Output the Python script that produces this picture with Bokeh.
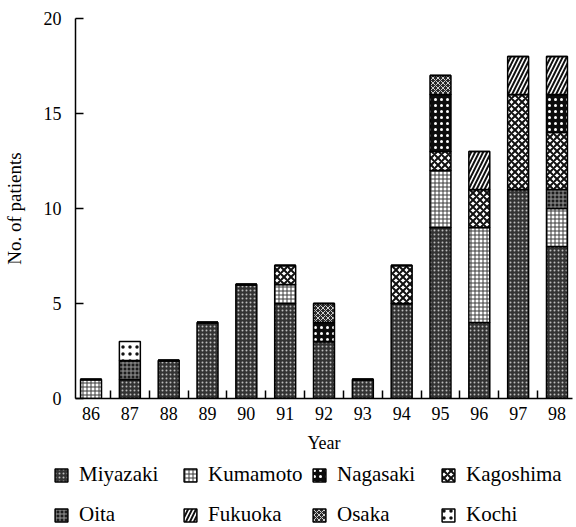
from bokeh.plotting import figure
from bokeh.layouts import column
from bokeh.models import ColumnDataSource, FixedTicker, Legend, LegendItem
from bokeh.embed import file_html
from bokeh.resources import INLINE

# Patients per year, broken down by prefecture
years = [86, 87, 88, 89, 90, 91, 92, 93, 94, 95, 96, 97, 98]
year_labels = ["86", "87", "88", "89", "90", "91", "92", "93", "94", "95", "96", "97", "98"]

miyazaki = [0, 1, 2, 4, 6, 5, 3, 1, 5, 9, 4, 11, 8]
kumamoto = [1, 0, 0, 0, 0, 1, 0, 0, 0, 3, 5, 0, 2]
oita = [0, 1, 0, 0, 0, 0, 0, 0, 0, 0, 0, 0, 1]
kagoshima = [0, 0, 0, 0, 0, 1, 0, 0, 2, 1, 2, 5, 3]
nagasaki = [0, 0, 0, 0, 0, 0, 1, 0, 0, 3, 0, 0, 2]
osaka = [0, 0, 0, 0, 0, 0, 1, 0, 0, 1, 0, 0, 0]
fukuoka = [0, 0, 0, 0, 0, 0, 0, 0, 0, 0, 2, 2, 2]
kochi = [0, 1, 0, 0, 0, 0, 0, 0, 0, 0, 0, 0, 0]

# stacking order (bottom to top)
stack_names = ["Miyazaki", "Kumamoto", "Oita", "Kagoshima", "Nagasaki", "Osaka", "Fukuoka", "Kochi"]
stack_values = [miyazaki, kumamoto, oita, kagoshima, nagasaki, osaka, fukuoka, kochi]
# legend order (row by row)
legend_order = ["Miyazaki", "Kumamoto", "Nagasaki", "Kagoshima", "Oita", "Fukuoka", "Osaka", "Kochi"]

# fill / hatch style per prefecture
styles = {
    "Miyazaki":  dict(fill="#333333", hatch="dot", hcolor="#bdbdbd", scale=4, weight=1),
    "Kumamoto":  dict(fill="#ffffff", hatch="cross", hcolor="#3a3a3a", scale=4, weight=1),
    "Oita":      dict(fill="#1c1c1c", hatch="cross", hcolor="#9a9a9a", scale=4, weight=1),
    "Kagoshima": dict(fill="#ffffff", hatch="diagonal_cross", hcolor="#111111", scale=7, weight=2),
    "Nagasaki":  dict(fill="#0c0c0c", hatch="dot", hcolor="#ffffff", scale=6, weight=1),
    "Osaka":     dict(fill="#2a2a2a", hatch="diagonal_cross", hcolor="#d0d0d0", scale=5, weight=1),
    "Fukuoka":   dict(fill="#ffffff", hatch="right_diagonal_line", hcolor="#111111", scale=8, weight=2),
    "Kochi":     dict(fill="#ffffff", hatch="dot", hcolor="#111111", scale=7, weight=1),
}


def style_kwargs(name):
    s = styles[name]
    return dict(fill_color=s["fill"], hatch_pattern=s["hatch"], hatch_color=s["hcolor"],
                hatch_scale=s["scale"], hatch_weight=s["weight"],
                line_color="black", line_width=1.5)


data = {"x": years}
for name, vals in zip(stack_names, stack_values):
    data[name] = vals
source = ColumnDataSource(data)

FONT = "Liberation Serif"

# ---- main bar chart ----
p = figure(
    width=576, height=458,
    x_range=(85.6, 98.4), y_range=(0, 20),
    output_backend="svg", toolbar_location=None,
    min_border_left=72, min_border_right=4, min_border_top=18, min_border_bottom=60,
    outline_line_color=None, background_fill_color="white", border_fill_color="white",
)
p.frame_align = False
p.grid.visible = False

p.vbar_stack(
    stack_names, x="x", width=0.54, source=source,
    fill_color=[styles[n]["fill"] for n in stack_names],
    hatch_pattern=[styles[n]["hatch"] for n in stack_names],
    hatch_color=[styles[n]["hcolor"] for n in stack_names],
    hatch_scale=[styles[n]["scale"] for n in stack_names],
    hatch_weight=[styles[n]["weight"] for n in stack_names],
    line_color="black", line_width=1.5,
)

# x axis: labels under the bars, small inward ticks between bars
xa = p.xaxis[0]
xa.ticker = FixedTicker(ticks=years, minor_ticks=[y + 0.5 for y in years[:-1]])
xa.major_label_overrides = {y: lab for y, lab in zip(years, year_labels)}
xa.major_tick_in = 0
xa.major_tick_out = 0
xa.minor_tick_in = 8
xa.minor_tick_out = 0
xa.minor_tick_line_width = 1.5
xa.axis_line_width = 1.5
xa.major_label_standoff = 8
xa.major_label_text_font = FONT
xa.major_label_text_font_size = "18px"
xa.major_label_text_color = "black"
xa.axis_label = "Year"
xa.axis_label_text_font = FONT
xa.axis_label_text_font_size = "18px"
xa.axis_label_text_font_style = "normal"
xa.axis_label_text_color = "black"
xa.axis_label_standoff = 10

ya = p.yaxis[0]
ya.ticker = FixedTicker(ticks=[0, 5, 10, 15, 20])
ya.major_tick_in = 8
ya.major_tick_out = 0
ya.minor_tick_in = 0
ya.minor_tick_out = 0
ya.major_tick_line_width = 1.5
ya.axis_line_width = 1.5
ya.major_label_standoff = 14
ya.major_label_text_font = FONT
ya.major_label_text_font_size = "18px"
ya.major_label_text_color = "black"
ya.axis_label = "No. of patients"
ya.axis_label_text_font = FONT
ya.axis_label_text_font_size = "19px"
ya.axis_label_text_font_style = "normal"
ya.axis_label_text_color = "black"
ya.axis_label_standoff = 16

# ---- legend strip under the chart ----
# hidden swatch renderers carry each prefecture's style for the legend entries
lg = figure(
    width=576, height=69, x_range=(0, 1), y_range=(0, 1),
    x_axis_location=None, y_axis_location=None,
    output_backend="svg", toolbar_location=None,
    min_border_left=0, min_border_right=0, min_border_top=0, min_border_bottom=0,
    outline_line_color=None, background_fill_color="white", border_fill_color="white",
)
lg.frame_align = False
lg.grid.visible = False

swatches = {}
for name in legend_order:
    r = lg.vbar(x="x", top=name, width=0.54, source=source, **style_kwargs(name))
    r.visible = False
    swatches[name] = r

legend = Legend(
    items=[LegendItem(label=n, renderers=[swatches[n]]) for n in legend_order],
    location=(53, -4),
    orientation="horizontal", ncols=4,
    glyph_width=16, glyph_height=16,
    label_standoff=10, label_width=96, label_height=33, spacing=7,
    padding=0, margin=0,
    border_line_color=None, background_fill_alpha=0,
    inactive_fill_alpha=0,
    label_text_font=FONT, label_text_font_size="21px", label_text_color="black",
)
lg.add_layout(legend, "center")

layout = column(p, lg, spacing=0)
open("out.html", "w").write(file_html(layout, INLINE))
